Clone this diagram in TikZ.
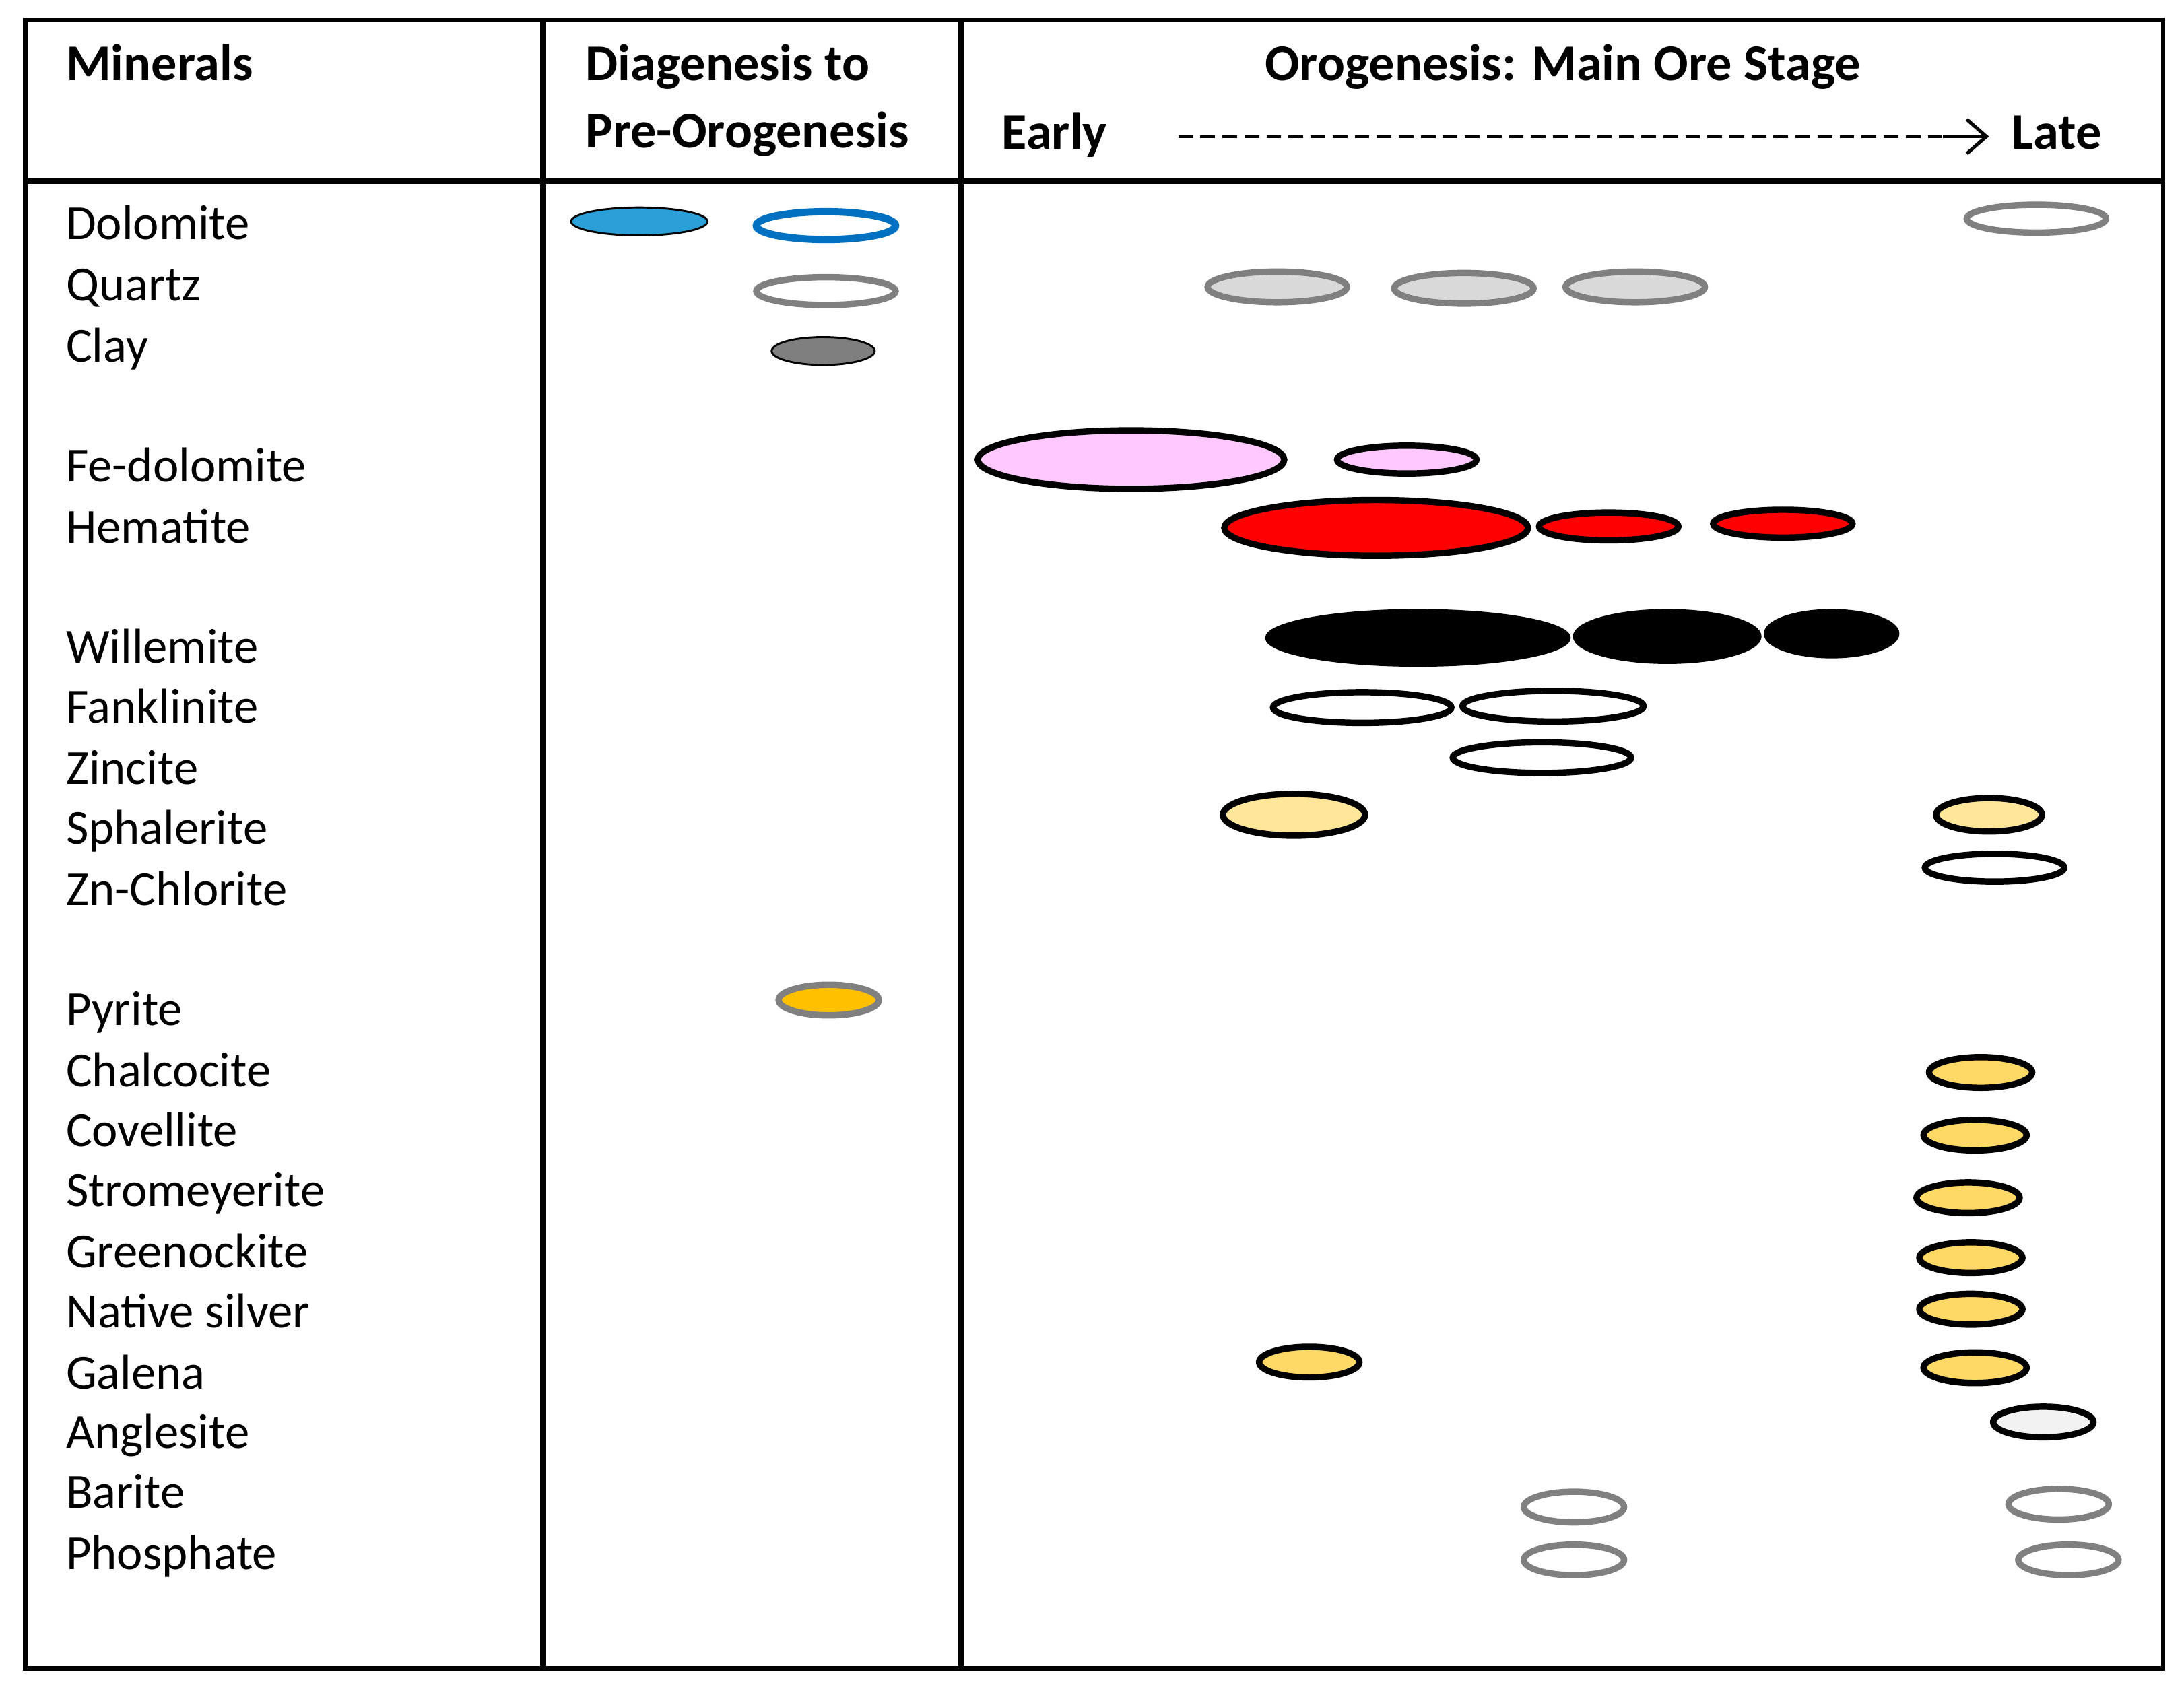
\documentclass[tikz,border=0pt]{standalone}
\usepackage{fontspec}
\usetikzlibrary{arrows.meta}
\setmainfont{Carlito}
\definecolor{dblue}{HTML}{2A9FD8}
\definecolor{oblue}{HTML}{0070C0}
\definecolor{ogray}{HTML}{808080}
\definecolor{lgray}{HTML}{D9D9D9}
\definecolor{cgray}{HTML}{7F7F7F}
\definecolor{fpink}{HTML}{FFC9FF}
\definecolor{sph}{HTML}{FFE699}
\definecolor{gold}{HTML}{FFD966}
\definecolor{pyr}{HTML}{FFC000}
\definecolor{ang}{HTML}{F2F2F2}
\newcommand{\myell}[5]{\draw[#5] (#1,#2) ellipse [x radius=#3, y radius=#4];}
\begin{document}
\begin{tikzpicture}[x=0.01cm,y=-0.01cm,
  lab/.style={anchor=base west,font=\fontsize{10}{12}\selectfont},
  hd/.style={anchor=base west,font=\fontsize{10.5}{12}\selectfont\bfseries},
  eb/.style={line width=1.3pt,draw=black},
  eg/.style={line width=1.3pt,draw=ogray}]
\useasboundingbox (0,0) rectangle (1568,1218);
\draw[line width=0.9pt] (18,14) rectangle (1553,1198);
\draw[line width=1.2pt] (390,14) -- (390,1198);
\draw[line width=1.2pt] (690,14) -- (690,1198);
\draw[line width=1.2pt] (18,130) -- (1553,130);
\node[hd] at (35,58) {Minerals};
\node[hd] at (408,58) {Diagenesis to};
\node[hd] at (408,106) {Pre-Orogenesis};
\node[hd,anchor=base] at (1122,58) {Orogenesis: Main Ore Stage};
\node[hd] (early) at (707,107) {Early};
\node[hd] (late) at (1432,107) {Late};
\coordinate (d0) at (846,98);
\coordinate (d1) at (1428,98);
\draw[dashed,dash pattern=on 3pt off 1.5pt,line width=0.5pt] (d0) -- (1400,98);
\draw[-{Straight Barb[length=4pt,width=7pt]},line width=0.7pt] (1395,98) -- (d1);
\foreach \t/\y in {Dolomite/172,Quartz/216,Clay/260,Fe-dolomite/346,Hematite/390,Willemite/476,Fanklinite/519,Zincite/563,Sphalerite/606,Zn-Chlorite/650,Pyrite/736,Chalcocite/780,Covellite/823,Stromeyerite/866,Greenockite/910,Native silver/953,Galena/997,Anglesite/1040,Barite/1083,Phosphate/1127}
  \node[lab] at (35,\y) {\t};
\myell{459}{159}{49}{10}{fill=dblue}
\myell{593}{162}{50}{10}{line width=1.5pt,draw=oblue}
\myell{1462}{157}{50}{10}{eg}
\myell{593}{209}{50}{10}{eg}
\myell{917}{206}{50}{11}{eg,fill=lgray}
\myell{1051}{207}{50}{11}{eg,fill=lgray}
\myell{1174}{206}{50}{11}{eg,fill=lgray}
\myell{591}{252}{37}{10}{fill=cgray}
\myell{812}{330}{110}{21}{eb,fill=fpink}
\myell{1010}{330}{50}{10}{eb,fill=fpink}
\myell{988}{379}{109}{20}{eb,fill=red}
\myell{1155}{378}{50}{10}{eb,fill=red}
\myell{1280}{376}{50}{10}{eb,fill=red}
\myell{1018}{458}{109}{20}{fill=black}
\myell{1197}{457}{67}{19}{fill=black}
\myell{1315}{455}{48}{17}{fill=black}
\myell{978}{508}{64}{11}{eb}
\myell{1115}{507}{65}{11}{eb}
\myell{1107}{544}{64}{11}{eb}
\myell{929}{585}{51}{15}{eb,fill=sph}
\myell{1428}{585}{38}{12}{eb,fill=sph}
\myell{1432}{623}{50}{10}{eb}
\myell{595}{718}{36}{11}{eg,fill=pyr}
\myell{1422}{770}{37}{11}{eb,fill=gold}
\myell{1418}{815}{37}{11}{eb,fill=gold}
\myell{1413}{860}{37}{11}{eb,fill=gold}
\myell{1415}{903}{37}{11}{eb,fill=gold}
\myell{1415}{940}{37}{11}{eb,fill=gold}
\myell{940}{978}{36}{11}{eb,fill=gold}
\myell{1418}{982}{37}{11}{eb,fill=gold}
\myell{1467}{1021}{36}{11}{eb,fill=ang}
\myell{1130}{1082}{36}{11}{eg}
\myell{1478}{1080}{36}{11}{eg}
\myell{1130}{1120}{36}{11}{eg}
\myell{1485}{1120}{36}{11}{eg}
\end{tikzpicture}
\end{document}
